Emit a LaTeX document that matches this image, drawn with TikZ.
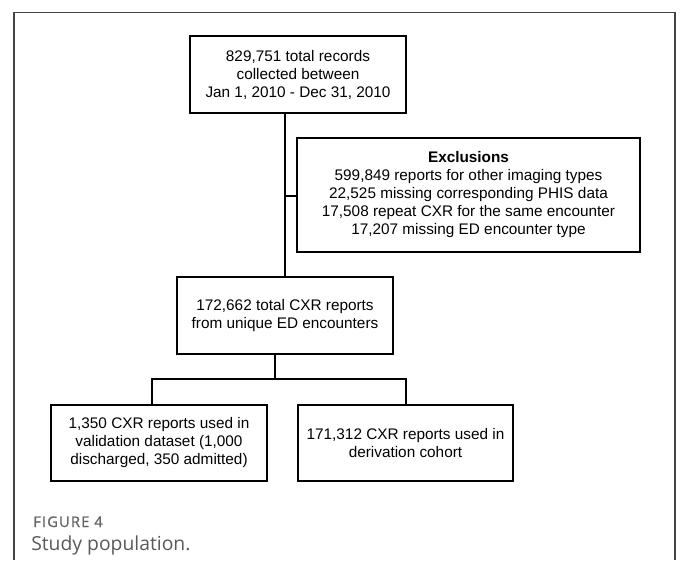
\documentclass[tikz,border=0pt]{standalone}
\usepackage{fontspec}
\setmainfont{Liberation Sans}
\newfontfamily\capfont[LetterSpace=8,FakeBold=1.2]{Open Sans}
\newfontfamily\titlefont{Open Sans}
\usetikzlibrary{positioning}
\definecolor{framegray}{HTML}{444444}
\definecolor{capgray}{HTML}{666666}

\begin{document}
\begin{tikzpicture}[x=0.75pt,y=-0.75pt,
  box/.style={draw,line width=0.9pt,align=center,inner sep=0pt,
    font=\fontsize{11.5}{13.5}\selectfont},
  captext/.style={anchor=base west,inner sep=0pt,text=capgray}]
  \useasboundingbox (0,0) rectangle (681,560);
  \draw[framegray,line width=1pt](14,560)--(14,12.5)--(675,12.5)--(675,560);

  \node[box,minimum width=216*0.75pt,minimum height=77*0.75pt] (recs) at (298,74.5)
    {829,751 total records\\collected between\\Jan 1, 2010 - Dec 31, 2010};
  \node[box,minimum width=343*0.75pt,minimum height=114*0.75pt] (excl) at (468.5,195)
    {\textbf{Exclusions}\\599,849 reports for other imaging types\\22,525 missing corresponding PHIS data\\17,508 repeat CXR for the same encounter\\17,207 missing ED encounter type};
  \node[box,minimum width=216*0.75pt,minimum height=77*0.75pt] (cxr) at (285,315.5)
    {172,662 total CXR reports\\from unique ED encounters};
  \node[box,minimum width=216*0.75pt,minimum height=76*0.75pt] (valid) at (159,443)
    {1,350 CXR reports used in\\validation dataset (1,000\\discharged, 350 admitted)};
  \node[box,minimum width=215*0.75pt,minimum height=76*0.75pt] (deriv) at (405.5,443)
    {171,312 CXR reports used in\\derivation cohort};

  \coordinate (ej) at (285,196);
  \coordinate (sj) at (275,379);
  \coordinate (lj) at (152,379);
  \coordinate (rj) at (406,379);
  \draw[line width=0.9pt](recs.south -| cxr.north)--(cxr.north);
  \draw[line width=0.9pt](ej)--(ej -| excl.west);
  \draw[line width=0.9pt](cxr.south -| sj)--(sj);
  \draw[line width=0.9pt](lj |- valid.north)--(lj)--(rj)--(rj |- deriv.north);

  \node[captext,font=\capfont\fontsize{11}{12}\selectfont] (fig) at (33,527) {FIGURE 4};
  \node[captext,font=\titlefont\fontsize{14.5}{16}\selectfont,text=black!65] (title) at (31,550) {Study population.};
\end{tikzpicture}
\end{document}
